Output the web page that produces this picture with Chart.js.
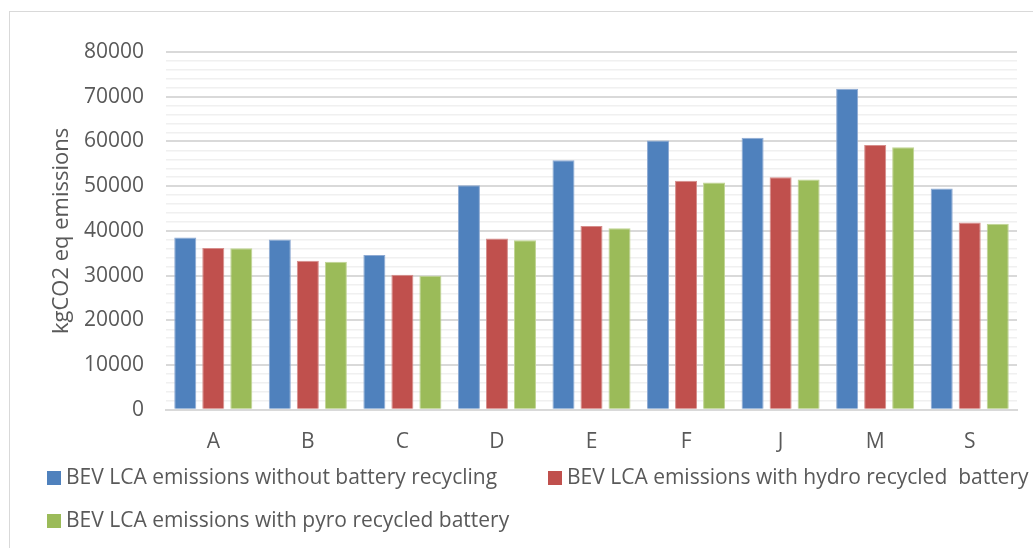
<!DOCTYPE html>
<html>
<head>
<meta charset="utf-8">
<script src="https://cdn.jsdelivr.net/npm/chart.js@4/dist/chart.umd.min.js"></script>
<style>
  html, body { margin: 0; padding: 0; background: #fff; overflow: hidden; }
  #wrap { position: relative; width: 1033px; height: 548px; }
</style>
</head>
<body>
<div id="wrap"><canvas id="lcaChart"></canvas></div>
<script>
// Vehicle models
const models = ['A', 'B', 'C', 'D', 'E', 'F', 'J', 'M', 'S'];

// Life-cycle emissions per model (kgCO2 eq)
const noRecycling = [38500, 38100, 34600, 50200, 55800, 60200, 60800, 71800, 49500];
const hydroRecycled = [36200, 33300, 30200, 38300, 41100, 51200, 52000, 59200, 41900];
const pyroRecycled = [36100, 33100, 30000, 37900, 40600, 50800, 51500, 58700, 41600];

const seriesNames = [
  'BEV LCA emissions without battery recycling',
  'BEV LCA emissions with hydro recycled  battery',
  'BEV LCA emissions with pyro recycled battery'
];
const seriesColors = ['#4F81BD', '#C0504D', '#9BBB59'];
const seriesEdges = ['#8eaad3', '#d68d8b', '#c0d494'];

// Legend entries are drawn by hand so the two-row layout stays put
const legendSlots = [
  { x: 47, y: 478 },
  { x: 548, y: 478 },
  { x: 47, y: 521 }
];

const textGray = '#595959';
const FONT = '"Open Sans", "DejaVu Sans", sans-serif';

const frameAndLegend = {
  id: 'frameAndLegend',
  beforeDraw(chart) {
    const ctx = chart.ctx;
    ctx.save();
    ctx.strokeStyle = '#d9d9d9';
    ctx.lineWidth = 1;
    ctx.strokeRect(9.5, 11.5, 1200, 800);
    ctx.restore();
  },
  afterDraw(chart) {
    const ctx = chart.ctx;
    ctx.save();
    ctx.font = '21px ' + FONT;
    ctx.textBaseline = 'middle';
    ctx.textAlign = 'left';
    chart.data.datasets.forEach(function(ds, i) {
      const slot = legendSlots[i];
      ctx.fillStyle = ds.backgroundColor;
      ctx.fillRect(slot.x, slot.y - 7, 14, 14);
      ctx.fillStyle = textGray;
      ctx.fillText(ds.label, slot.x + 19, slot.y);
    });
    ctx.restore();
  }
};

const ctx = document.getElementById('lcaChart').getContext('2d');

new Chart(ctx, {
  type: 'bar',
  data: {
    labels: models,
    datasets: [noRecycling, hydroRecycled, pyroRecycled].map(function(values, i) {
      return {
        label: seriesNames[i],
        data: values,
        backgroundColor: seriesColors[i],
        borderColor: seriesEdges[i],
        borderWidth: 1,
        categoryPercentage: 0.889,
        barPercentage: 0.786
      };
    })
  },
  options: {
    responsive: true,
    maintainAspectRatio: false,
    animation: false,
    layout: {
      padding: { left: 30, right: 16, top: 52, bottom: 81 }
    },
    scales: {
      x: {
        grid: { display: false },
        border: { color: '#d9d9d9', width: 2 },
        ticks: {
          color: textGray,
          padding: 12,
          font: { family: FONT, size: 21 }
        }
      },
      y: {
        min: 0,
        max: 80000,
        border: { display: false },
        afterFit: function(scale) {
          scale.width = 136;
        },
        grid: {
          drawTicks: false,
          color: function(c) {
            return c.tick.value % 10000 === 0 ? '#d9d9d9' : '#f0f0f0';
          },
          lineWidth: function(c) {
            return c.tick.value % 10000 === 0 ? 2 : 1.5;
          }
        },
        ticks: {
          stepSize: 2000,
          autoSkip: false,
          padding: 22,
          color: textGray,
          font: { family: FONT, size: 21 },
          callback: function(value) {
            return value % 10000 === 0 ? value : '';
          }
        },
        title: {
          display: true,
          text: 'kgCO2 eq emissions',
          color: textGray,
          padding: { top: 19, bottom: 8 },
          font: { family: FONT, size: 22 }
        }
      }
    },
    plugins: {
      legend: { display: false },
      tooltip: { enabled: false }
    }
  },
  plugins: [frameAndLegend]
});
</script>
</body>
</html>
